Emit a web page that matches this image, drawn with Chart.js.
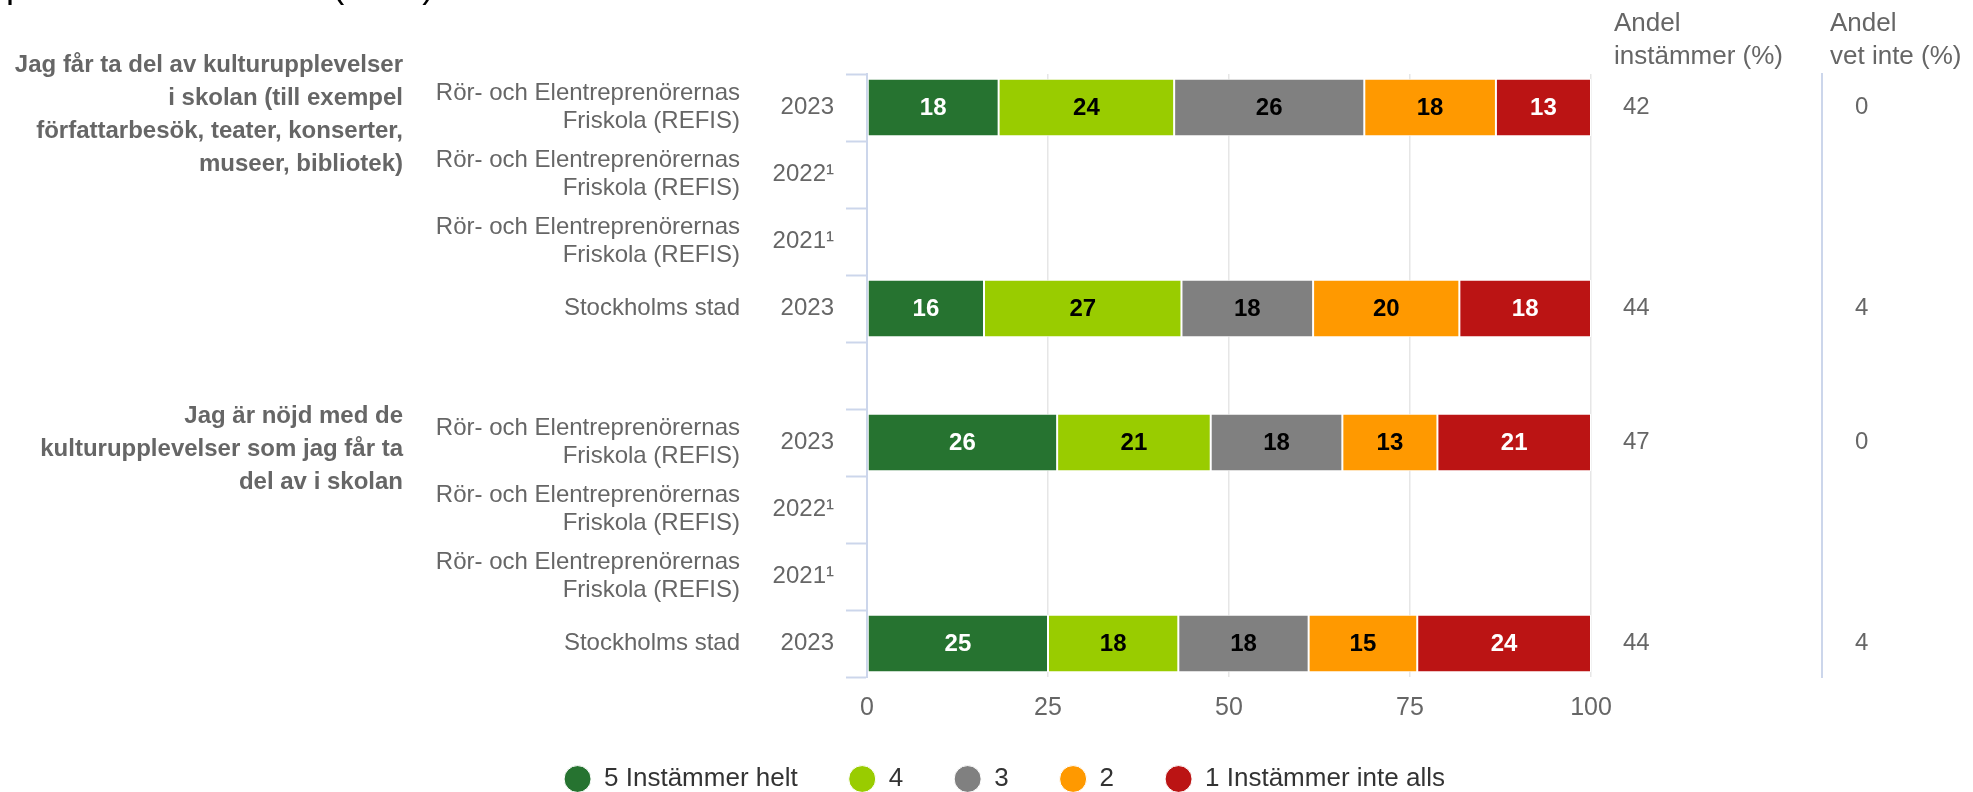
<!DOCTYPE html>
<html lang="sv">
<head>
<meta charset="utf-8">
<title>Kulturupplevelser i skolan</title>
<script src="https://cdn.jsdelivr.net/npm/chart.js@4/dist/chart.umd.min.js"></script>
<style>
    html, body { margin: 0; padding: 0; background: #fff; }
    #chart { display: block; }
</style>
</head>
<body>
<canvas id="chart" width="1973" height="792"></canvas>
<script>
// Svarsfördelning per påstående, skola och år

const questionLabels = [
    ['Jag får ta del av kulturupplevelser', 'i skolan (till exempel', 'författarbesök, teater, konserter,', 'museer, bibliotek)'],
    '', '', '', '',
    ['Jag är nöjd med de', 'kulturupplevelser som jag får ta', 'del av i skolan'],
    '', '', ''
];
const refis = ['Rör- och Elentreprenörernas', 'Friskola (REFIS)'];
const schoolLabels = [refis, refis, refis, 'Stockholms stad', '', refis, refis, refis, 'Stockholms stad'];
const yearLabels = ['2023', '2022¹', '2021¹', '2023', '', '2023', '2022¹', '2021¹', '2023'];

// andel i procent per svarsalternativ (5 = instämmer helt ... 1 = instämmer inte alls)
const level5 = [18, null, null, 16, null, 26, null, null, 25];
const level4 = [24, null, null, 27, null, 21, null, null, 18];
const level3 = [26, null, null, 18, null, 18, null, null, 18];
const level2 = [18, null, null, 20, null, 13, null, null, 15];
const level1 = [13, null, null, 18, null, 21, null, null, 24];

const agreeShare = [42, null, null, 44, null, 47, null, null, 44];
const dontKnowShare = [0, null, null, 4, null, 0, null, null, 4];

const seriesNames = ['5 Instämmer helt', '4', '3', '2', '1 Instämmer inte alls'];
const seriesColors = ['#267330', '#99cc00', '#808080', '#ff9900', '#bb1414'];
const labelColors = ['#ffffff', '#000000', '#000000', '#000000', '#ffffff'];

const FONT = '"Liberation Sans", Arial, Helvetica, sans-serif';
const levels = [level5, level4, level3, level2, level1];

// staplarna fylls ut till 100 %
const rowTotals = yearLabels.map((_, i) => levels.reduce((s, arr) => s + (arr[i] || 0), 0));
function toPercent(arr) {
    return arr.map((v, i) => (v == null || !rowTotals[i]) ? null : v / rowTotals[i] * 100);
}

const barValueLabels = {
    id: 'barValueLabels',
    afterDatasetsDraw(chart) {
        const ctx = chart.ctx;
        ctx.save();
        ctx.font = 'bold 24px ' + FONT;
        ctx.textAlign = 'center';
        ctx.textBaseline = 'middle';
        chart.data.datasets.forEach((ds, di) => {
            const meta = chart.getDatasetMeta(di);
            meta.data.forEach((bar, i) => {
                const v = levels[di][i];
                if (v == null) return;
                ctx.fillStyle = labelColors[di];
                ctx.fillText(String(v), (bar.x + bar.base) / 2, bar.y + 1);
            });
        });
        ctx.restore();
    }
};

const columnHeaders = {
    id: 'columnHeaders',
    afterDraw(chart) {
        const ctx = chart.ctx;
        const agree = chart.scales.yAgree;
        const dk = chart.scales.yDontKnow;
        ctx.save();
        ctx.fillStyle = '#666';
        ctx.font = '26px ' + FONT;
        ctx.textAlign = 'left';
        ctx.textBaseline = 'middle';
        ctx.fillText('Andel', agree.left + 23, 24);
        ctx.fillText('instämmer (%)', agree.left + 23, 57);
        ctx.fillText('Andel', dk.left + 8, 24);
        ctx.fillText('vet inte (%)', dk.left + 8, 57);
        // rubriken är avskuren i överkant
        ctx.fillStyle = '#000';
        ctx.font = '36px ' + FONT;
        ctx.textBaseline = 'alphabetic';
        ctx.fillText('procent av eleverna (antal)', 6, -3);
        ctx.restore();
    }
};

// teckenförklaringen ligger lite till höger om mitten
const legendShift = {
    id: 'legendShift',
    afterLayout(chart) {
        if (chart.legend) chart.legend.left += 36;
    }
};

function fixWidth(w) {
    return (scale) => {
        scale.width = w;
        scale.paddingTop = 0;
        scale.paddingBottom = 0;
    };
}

Chart.defaults.font.family = FONT;

new Chart(document.getElementById('chart').getContext('2d'), {
    type: 'bar',
    data: {
        labels: yearLabels,
        datasets: levels.map((arr, i) => ({
            label: seriesNames[i],
            data: toPercent(arr),
            backgroundColor: seriesColors[i],
            borderColor: '#ffffff',
            borderWidth: 1,
            borderSkipped: false,
            barPercentage: 0.86,
            categoryPercentage: 1
        }))
    },
    options: {
        indexAxis: 'y',
        responsive: false,
        animation: false,
        layout: {
            padding: { left: 0, top: 74, right: 0, bottom: 0 }
        },
        scales: {
            x: {
                type: 'linear',
                position: 'bottom',
                stacked: true,
                min: 0,
                max: 100,
                ticks: { stepSize: 25, color: '#666', font: { size: 25 }, padding: 16 },
                grid: { color: '#e6e6e6', lineWidth: 1.5, drawTicks: false },
                border: { display: false },
                afterFit(scale) {
                    scale.height = 38;
                    scale.paddingLeft = 0;
                    scale.paddingRight = 0;
                }
            },
            y: {
                type: 'category',
                axis: 'y',
                position: 'left',
                weight: 1,
                stacked: true,
                offset: true,
                ticks: { autoSkip: false, color: '#666', font: { size: 24 }, padding: 12 },
                grid: {
                    offset: true,
                    drawOnChartArea: false,
                    drawTicks: true,
                    tickLength: 21,
                    tickColor: '#ccd6eb',
                    tickWidth: 2
                },
                border: { display: true, color: '#ccd6eb', width: 2 },
                afterFit: fixWidth(117)
            },
            yName: {
                type: 'category',
                axis: 'y',
                position: 'left',
                weight: 2,
                offset: true,
                labels: schoolLabels,
                ticks: { autoSkip: false, color: '#666', font: { size: 24, lineHeight: 1.17 }, padding: 10 },
                grid: { display: false, drawTicks: false },
                border: { display: false },
                afterFit: fixWidth(330)
            },
            yQuestion: {
                type: 'category',
                axis: 'y',
                position: 'left',
                weight: 3,
                offset: true,
                labels: questionLabels,
                ticks: {
                    autoSkip: false,
                    color: '#666',
                    font: { size: 24, weight: 'bold', lineHeight: 1.375 },
                    padding: 17,
                    labelOffset: 7
                },
                grid: { display: false, drawTicks: false },
                border: { display: false },
                afterFit: fixWidth(420)
            },
            yAgree: {
                type: 'category',
                axis: 'y',
                position: 'right',
                weight: 1,
                offset: true,
                labels: agreeShare.map(v => v == null ? '' : String(v)),
                ticks: { autoSkip: false, color: '#666', font: { size: 24 }, padding: 32 },
                grid: { display: false, drawTicks: false },
                border: { display: false },
                afterFit: fixWidth(231)
            },
            yDontKnow: {
                type: 'category',
                axis: 'y',
                position: 'right',
                weight: 2,
                offset: true,
                labels: dontKnowShare.map(v => v == null ? '' : String(v)),
                ticks: { autoSkip: false, color: '#666', font: { size: 24 }, padding: 33 },
                grid: { display: true, drawOnChartArea: false, drawTicks: false },
                border: { display: true, color: '#ccd6eb', width: 2 },
                afterFit: fixWidth(151)
            }
        },
        plugins: {
            legend: {
                position: 'bottom',
                align: 'center',
                maxHeight: 77,
                labels: {
                    usePointStyle: true,
                    pointStyle: 'circle',
                    pointStyleWidth: 27,
                    boxHeight: 19,
                    padding: 51,
                    color: '#333',
                    font: { size: 26 }
                }
            },
            title: { display: false },
            tooltip: { enabled: false }
        }
    },
    plugins: [barValueLabels, columnHeaders, legendShift]
});
</script>
</body>
</html>
